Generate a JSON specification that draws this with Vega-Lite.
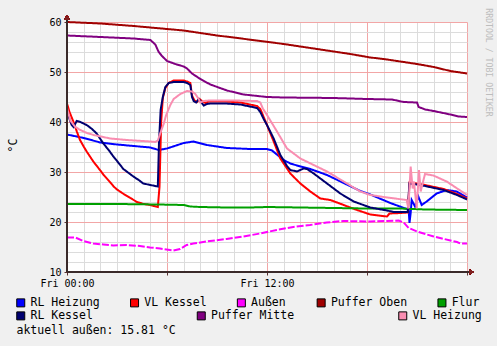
{
"$schema": "https://vega.github.io/schema/vega-lite/v6.json",
"width": 400, "height": 250,
"autosize": {"type": "none"},
"padding": {"left": 67, "top": 22, "right": 30, "bottom": 74},
"background": "#f0f0f0",
"config": {
 "view": {"fill": "white", "stroke": null},
 "font": "DejaVu Sans Mono",
 "axis": {"labelFont": "DejaVu Sans Mono", "titleFont": "DejaVu Sans Mono", "labelColor": "#000", "titleColor": "#000", "titleFontWeight": "normal"}
},
"data": {"values": [
{"s":"RL Heizung","h":0,"v":37.5},{"s":"RL Heizung","h":1,"v":36.8},{"s":"RL Heizung","h":2,"v":35.9},{"s":"RL Heizung","h":3,"v":35.5},{"s":"RL Heizung","h":4,"v":35.2},{"s":"RL Heizung","h":5,"v":34.9},{"s":"RL Heizung","h":5.5,"v":34.4},{"s":"RL Heizung","h":6,"v":34.7},{"s":"RL Heizung","h":7,"v":35.8},{"s":"RL Heizung","h":7.6,"v":36.1},{"s":"RL Heizung","h":8.4,"v":35.4},{"s":"RL Heizung","h":9.6,"v":34.8},{"s":"RL Heizung","h":11,"v":34.6},{"s":"RL Heizung","h":12,"v":34.6},{"s":"RL Heizung","h":12.3,"v":34.3},{"s":"RL Heizung","h":12.7,"v":33.2},{"s":"RL Heizung","h":13,"v":32.4},{"s":"RL Heizung","h":13.4,"v":31.7},{"s":"RL Heizung","h":14,"v":31.1},{"s":"RL Heizung","h":14.6,"v":30.6},{"s":"RL Heizung","h":15.6,"v":29.4},{"s":"RL Heizung","h":16.6,"v":27.8},{"s":"RL Heizung","h":17.6,"v":26.2},{"s":"RL Heizung","h":18.2,"v":25.5},{"s":"RL Heizung","h":19.4,"v":23.8},{"s":"RL Heizung","h":20.3,"v":22.7},{"s":"RL Heizung","h":20.5,"v":22.4},{"s":"RL Heizung","h":20.55,"v":19.8},{"s":"RL Heizung","h":20.62,"v":21.8},{"s":"RL Heizung","h":20.68,"v":24.4},{"s":"RL Heizung","h":20.88,"v":23.1},{"s":"RL Heizung","h":21.08,"v":25.1},{"s":"RL Heizung","h":21.28,"v":23.4},{"s":"RL Heizung","h":21.58,"v":24.1},{"s":"RL Heizung","h":22.18,"v":25.7},{"s":"RL Heizung","h":22.78,"v":26.4},{"s":"RL Heizung","h":23.38,"v":26.1},{"s":"RL Heizung","h":24,"v":24.9},
{"s":"VL Kessel","h":0,"v":43.7},{"s":"VL Kessel","h":0.15,"v":42.0},{"s":"VL Kessel","h":0.38,"v":40.1},{"s":"VL Kessel","h":0.6,"v":38.0},{"s":"VL Kessel","h":0.78,"v":36.4},{"s":"VL Kessel","h":1.0,"v":35.1},{"s":"VL Kessel","h":1.18,"v":34.1},{"s":"VL Kessel","h":1.58,"v":32.1},{"s":"VL Kessel","h":2.0,"v":30.3},{"s":"VL Kessel","h":2.2,"v":29.4},{"s":"VL Kessel","h":2.6,"v":27.9},{"s":"VL Kessel","h":2.8,"v":27.1},{"s":"VL Kessel","h":3.0,"v":26.5},{"s":"VL Kessel","h":3.4,"v":25.6},{"s":"VL Kessel","h":3.8,"v":24.8},{"s":"VL Kessel","h":4.2,"v":24.0},{"s":"VL Kessel","h":4.6,"v":23.6},{"s":"VL Kessel","h":5.0,"v":23.4},{"s":"VL Kessel","h":5.2,"v":23.2},{"s":"VL Kessel","h":5.45,"v":23.0},{"s":"VL Kessel","h":5.55,"v":27.0},{"s":"VL Kessel","h":5.65,"v":40.0},{"s":"VL Kessel","h":5.75,"v":44.8},{"s":"VL Kessel","h":5.9,"v":46.8},{"s":"VL Kessel","h":6.1,"v":47.8},{"s":"VL Kessel","h":6.4,"v":48.3},{"s":"VL Kessel","h":7.0,"v":48.3},{"s":"VL Kessel","h":7.2,"v":48.1},{"s":"VL Kessel","h":7.4,"v":47.8},{"s":"VL Kessel","h":7.5,"v":45.3},{"s":"VL Kessel","h":7.65,"v":44.3},{"s":"VL Kessel","h":7.8,"v":44.0},{"s":"VL Kessel","h":7.95,"v":44.6},{"s":"VL Kessel","h":8.1,"v":44.2},{"s":"VL Kessel","h":8.3,"v":43.8},{"s":"VL Kessel","h":8.5,"v":44.1},{"s":"VL Kessel","h":9.5,"v":44.1},{"s":"VL Kessel","h":10.4,"v":43.9},{"s":"VL Kessel","h":11.4,"v":43.2},{"s":"VL Kessel","h":11.6,"v":42.6},{"s":"VL Kessel","h":12.0,"v":39.4},{"s":"VL Kessel","h":12.4,"v":36.1},{"s":"VL Kessel","h":12.8,"v":32.7},{"s":"VL Kessel","h":13.4,"v":29.7},{"s":"VL Kessel","h":14.0,"v":27.7},{"s":"VL Kessel","h":14.6,"v":26.1},{"s":"VL Kessel","h":15.2,"v":24.7},{"s":"VL Kessel","h":15.8,"v":24.4},{"s":"VL Kessel","h":16.6,"v":23.4},{"s":"VL Kessel","h":17.4,"v":22.4},{"s":"VL Kessel","h":18.2,"v":21.5},{"s":"VL Kessel","h":19.2,"v":21.1},{"s":"VL Kessel","h":19.35,"v":21.7},{"s":"VL Kessel","h":20.0,"v":21.8},{"s":"VL Kessel","h":20.45,"v":21.9},{"s":"VL Kessel","h":20.55,"v":27.9},{"s":"VL Kessel","h":21.2,"v":27.6},{"s":"VL Kessel","h":22.6,"v":26.6},{"s":"VL Kessel","h":23.4,"v":25.6},{"s":"VL Kessel","h":24,"v":24.7},
{"s":"Außen","h":0,"v":16.9},{"s":"Außen","h":0.5,"v":16.9},{"s":"Außen","h":0.98,"v":16.2},{"s":"Außen","h":1.58,"v":15.7},{"s":"Außen","h":2.18,"v":15.5},{"s":"Außen","h":2.78,"v":15.3},{"s":"Außen","h":3.58,"v":15.4},{"s":"Außen","h":4.38,"v":15.2},{"s":"Außen","h":4.98,"v":14.9},{"s":"Außen","h":5.58,"v":14.7},{"s":"Außen","h":6.18,"v":14.4},{"s":"Außen","h":6.38,"v":14.3},{"s":"Außen","h":6.78,"v":14.6},{"s":"Außen","h":7.18,"v":15.4},{"s":"Außen","h":7.58,"v":15.7},{"s":"Außen","h":8.58,"v":16.2},{"s":"Außen","h":9.58,"v":16.6},{"s":"Außen","h":10.58,"v":17.1},{"s":"Außen","h":11.58,"v":17.7},{"s":"Außen","h":12.58,"v":18.4},{"s":"Außen","h":13.58,"v":19.0},{"s":"Außen","h":14.58,"v":19.4},{"s":"Außen","h":15.58,"v":19.9},{"s":"Außen","h":16.58,"v":20.2},{"s":"Außen","h":18.18,"v":20.1},{"s":"Außen","h":19.2,"v":20.2},{"s":"Außen","h":19.9,"v":20.3},{"s":"Außen","h":20.2,"v":19.9},{"s":"Außen","h":20.5,"v":18.8},{"s":"Außen","h":21.0,"v":18.1},{"s":"Außen","h":21.5,"v":17.6},{"s":"Außen","h":22.0,"v":17.1},{"s":"Außen","h":22.5,"v":16.7},{"s":"Außen","h":23.0,"v":16.3},{"s":"Außen","h":23.4,"v":16.0},{"s":"Außen","h":23.6,"v":15.7},{"s":"Außen","h":24,"v":15.7},
{"s":"Puffer Oben","h":0,"v":60.0},{"s":"Puffer Oben","h":2,"v":59.7},{"s":"Puffer Oben","h":4,"v":59.2},{"s":"Puffer Oben","h":5,"v":58.9},{"s":"Puffer Oben","h":7,"v":58.3},{"s":"Puffer Oben","h":8,"v":57.8},{"s":"Puffer Oben","h":9,"v":57.3},{"s":"Puffer Oben","h":10,"v":56.9},{"s":"Puffer Oben","h":11.6,"v":56.2},{"s":"Puffer Oben","h":13,"v":55.6},{"s":"Puffer Oben","h":14,"v":55.1},{"s":"Puffer Oben","h":15,"v":54.6},{"s":"Puffer Oben","h":16,"v":54.1},{"s":"Puffer Oben","h":17,"v":53.6},{"s":"Puffer Oben","h":18.2,"v":52.9},{"s":"Puffer Oben","h":19,"v":52.6},{"s":"Puffer Oben","h":20,"v":52.1},{"s":"Puffer Oben","h":21,"v":51.6},{"s":"Puffer Oben","h":22,"v":51.0},{"s":"Puffer Oben","h":23,"v":50.2},{"s":"Puffer Oben","h":24,"v":49.7},
{"s":"Flur","h":0,"v":23.6},{"s":"Flur","h":3,"v":23.6},{"s":"Flur","h":5.5,"v":23.5},{"s":"Flur","h":7,"v":23.4},{"s":"Flur","h":7.4,"v":23.1},{"s":"Flur","h":8,"v":23.0},{"s":"Flur","h":9.6,"v":22.9},{"s":"Flur","h":11,"v":22.9},{"s":"Flur","h":12,"v":23.0},{"s":"Flur","h":14,"v":22.9},{"s":"Flur","h":16,"v":22.8},{"s":"Flur","h":18,"v":22.7},{"s":"Flur","h":20,"v":22.7},{"s":"Flur","h":21.5,"v":22.5},{"s":"Flur","h":24,"v":22.4},
{"s":"RL Kessel","h":0,"v":42.1},{"s":"RL Kessel","h":0.15,"v":40.6},{"s":"RL Kessel","h":0.28,"v":39.4},{"s":"RL Kessel","h":0.4,"v":39.0},{"s":"RL Kessel","h":0.58,"v":40.2},{"s":"RL Kessel","h":0.8,"v":40.0},{"s":"RL Kessel","h":1.18,"v":39.4},{"s":"RL Kessel","h":1.5,"v":38.6},{"s":"RL Kessel","h":1.78,"v":37.7},{"s":"RL Kessel","h":2.18,"v":35.7},{"s":"RL Kessel","h":2.5,"v":34.4},{"s":"RL Kessel","h":2.78,"v":33.1},{"s":"RL Kessel","h":3.1,"v":31.8},{"s":"RL Kessel","h":3.38,"v":30.6},{"s":"RL Kessel","h":3.7,"v":29.8},{"s":"RL Kessel","h":3.98,"v":29.1},{"s":"RL Kessel","h":4.3,"v":28.4},{"s":"RL Kessel","h":4.58,"v":27.7},{"s":"RL Kessel","h":5.0,"v":27.4},{"s":"RL Kessel","h":5.45,"v":27.1},{"s":"RL Kessel","h":5.52,"v":36.0},{"s":"RL Kessel","h":5.62,"v":42.5},{"s":"RL Kessel","h":5.75,"v":45.0},{"s":"RL Kessel","h":5.9,"v":47.0},{"s":"RL Kessel","h":6.1,"v":47.8},{"s":"RL Kessel","h":6.4,"v":48.0},{"s":"RL Kessel","h":7.0,"v":48.0},{"s":"RL Kessel","h":7.2,"v":47.8},{"s":"RL Kessel","h":7.4,"v":47.4},{"s":"RL Kessel","h":7.5,"v":45.0},{"s":"RL Kessel","h":7.6,"v":44.2},{"s":"RL Kessel","h":7.75,"v":43.9},{"s":"RL Kessel","h":7.9,"v":44.6},{"s":"RL Kessel","h":8.05,"v":44.0},{"s":"RL Kessel","h":8.2,"v":43.3},{"s":"RL Kessel","h":8.4,"v":43.6},{"s":"RL Kessel","h":8.6,"v":43.7},{"s":"RL Kessel","h":9.5,"v":43.7},{"s":"RL Kessel","h":10.4,"v":43.5},{"s":"RL Kessel","h":11.4,"v":42.8},{"s":"RL Kessel","h":11.6,"v":42.0},{"s":"RL Kessel","h":11.8,"v":40.6},{"s":"RL Kessel","h":12.0,"v":39.4},{"s":"RL Kessel","h":12.4,"v":36.7},{"s":"RL Kessel","h":12.8,"v":33.4},{"s":"RL Kessel","h":13.2,"v":31.2},{"s":"RL Kessel","h":13.4,"v":30.4},{"s":"RL Kessel","h":13.8,"v":30.1},{"s":"RL Kessel","h":14.2,"v":30.7},{"s":"RL Kessel","h":14.4,"v":30.6},{"s":"RL Kessel","h":14.8,"v":29.7},{"s":"RL Kessel","h":15.6,"v":27.7},{"s":"RL Kessel","h":16.4,"v":25.7},{"s":"RL Kessel","h":17.2,"v":24.1},{"s":"RL Kessel","h":18.2,"v":22.9},{"s":"RL Kessel","h":19.2,"v":22.3},{"s":"RL Kessel","h":19.6,"v":22.0},{"s":"RL Kessel","h":20.45,"v":22.0},{"s":"RL Kessel","h":20.54,"v":27.7},{"s":"RL Kessel","h":21.2,"v":27.4},{"s":"RL Kessel","h":22.6,"v":26.4},{"s":"RL Kessel","h":23.4,"v":25.4},{"s":"RL Kessel","h":24,"v":24.5},
{"s":"Puffer Mitte","h":0,"v":57.3},{"s":"Puffer Mitte","h":2,"v":57.0},{"s":"Puffer Mitte","h":4,"v":56.7},{"s":"Puffer Mitte","h":5,"v":56.4},{"s":"Puffer Mitte","h":5.3,"v":55.5},{"s":"Puffer Mitte","h":5.5,"v":54.0},{"s":"Puffer Mitte","h":5.7,"v":53.2},{"s":"Puffer Mitte","h":6.0,"v":52.2},{"s":"Puffer Mitte","h":6.5,"v":51.6},{"s":"Puffer Mitte","h":7.0,"v":51.1},{"s":"Puffer Mitte","h":7.2,"v":50.7},{"s":"Puffer Mitte","h":7.5,"v":49.7},{"s":"Puffer Mitte","h":8.0,"v":48.6},{"s":"Puffer Mitte","h":8.6,"v":47.5},{"s":"Puffer Mitte","h":9.6,"v":46.3},{"s":"Puffer Mitte","h":10.6,"v":45.5},{"s":"Puffer Mitte","h":12,"v":45.0},{"s":"Puffer Mitte","h":13,"v":44.9},{"s":"Puffer Mitte","h":16,"v":44.8},{"s":"Puffer Mitte","h":18,"v":44.6},{"s":"Puffer Mitte","h":19.5,"v":44.5},{"s":"Puffer Mitte","h":20.2,"v":44.0},{"s":"Puffer Mitte","h":21,"v":43.9},{"s":"Puffer Mitte","h":21.1,"v":43.0},{"s":"Puffer Mitte","h":21.5,"v":42.5},{"s":"Puffer Mitte","h":22,"v":42.2},{"s":"Puffer Mitte","h":23,"v":41.5},{"s":"Puffer Mitte","h":23.5,"v":41.1},{"s":"Puffer Mitte","h":24,"v":41.0},
{"s":"VL Heizung","h":0,"v":42.8},{"s":"VL Heizung","h":0.2,"v":40.3},{"s":"VL Heizung","h":0.5,"v":39.0},{"s":"VL Heizung","h":0.8,"v":38.4},{"s":"VL Heizung","h":1.2,"v":37.8},{"s":"VL Heizung","h":1.6,"v":37.4},{"s":"VL Heizung","h":2.6,"v":36.7},{"s":"VL Heizung","h":3.6,"v":36.4},{"s":"VL Heizung","h":4.5,"v":36.2},{"s":"VL Heizung","h":5.0,"v":36.1},{"s":"VL Heizung","h":5.3,"v":36.0},{"s":"VL Heizung","h":5.45,"v":36.3},{"s":"VL Heizung","h":5.6,"v":37.8},{"s":"VL Heizung","h":5.8,"v":39.6},{"s":"VL Heizung","h":5.95,"v":41.4},{"s":"VL Heizung","h":6.2,"v":43.4},{"s":"VL Heizung","h":6.4,"v":44.6},{"s":"VL Heizung","h":6.8,"v":45.6},{"s":"VL Heizung","h":7.2,"v":46.2},{"s":"VL Heizung","h":7.5,"v":46.1},{"s":"VL Heizung","h":7.7,"v":45.6},{"s":"VL Heizung","h":7.9,"v":44.6},{"s":"VL Heizung","h":8.0,"v":43.9},{"s":"VL Heizung","h":8.2,"v":44.2},{"s":"VL Heizung","h":8.5,"v":44.3},{"s":"VL Heizung","h":10,"v":44.3},{"s":"VL Heizung","h":11.4,"v":44.2},{"s":"VL Heizung","h":11.6,"v":43.9},{"s":"VL Heizung","h":11.75,"v":42.7},{"s":"VL Heizung","h":12.0,"v":41.4},{"s":"VL Heizung","h":12.6,"v":38.1},{"s":"VL Heizung","h":13.2,"v":34.7},{"s":"VL Heizung","h":14.0,"v":32.7},{"s":"VL Heizung","h":14.8,"v":31.4},{"s":"VL Heizung","h":15.6,"v":30.1},{"s":"VL Heizung","h":16.6,"v":28.1},{"s":"VL Heizung","h":17.6,"v":26.1},{"s":"VL Heizung","h":18.2,"v":25.4},{"s":"VL Heizung","h":19.2,"v":24.9},{"s":"VL Heizung","h":20.38,"v":24.4},{"s":"VL Heizung","h":20.48,"v":22.7},{"s":"VL Heizung","h":20.62,"v":31.1},{"s":"VL Heizung","h":20.74,"v":26.7},{"s":"VL Heizung","h":20.82,"v":28.1},{"s":"VL Heizung","h":20.98,"v":22.7},{"s":"VL Heizung","h":21.12,"v":30.4},{"s":"VL Heizung","h":21.22,"v":26.1},{"s":"VL Heizung","h":21.48,"v":29.6},{"s":"VL Heizung","h":21.98,"v":29.3},{"s":"VL Heizung","h":22.78,"v":28.1},{"s":"VL Heizung","h":24,"v":25.4}
]},
"resolve": {"axis": {"x": "independent", "y": "independent"}},
"layer": [
 {
  "transform": [{"filter": "false"}],
  "mark": {"type": "point", "opacity": 0},
  "encoding": {
   "x": {"field": "h", "type": "quantitative", "scale": {"domain": [0, 24], "nice": false, "zero": false},
    "axis": {"orient": "bottom", "values": [1,2,3,4,5,7,8,9,10,11,13,14,15,16,17,19,20,21,22,23], "grid": true, "gridColor": "#dcdcdc", "gridWidth": 1, "labels": false, "ticks": false, "domain": false, "title": null}},
   "y": {"field": "v", "type": "quantitative", "scale": {"domain": [10, 60], "nice": false, "zero": false},
    "axis": {"orient": "left", "values": [12,14,16,18,22,24,26,28,32,34,36,38,42,44,46,48,52,54,56,58], "grid": true, "gridColor": "#dcdcdc", "gridWidth": 1, "labels": false, "ticks": false, "domain": false, "title": null}}
  }
 },
 {
  "mark": {"type": "line", "strokeWidth": 2},
  "encoding": {
   "x": {"field": "h", "type": "quantitative", "scale": {"domain": [0, 24], "nice": false, "zero": false},
    "axis": {"orient": "bottom", "values": [0,6,12,18,24], "grid": true, "gridColor": "#f2a6a6", "gridWidth": 1, "domain": false,
     "ticks": true, "tickSize": 3, "tickColor": "#5a3030", "labelPadding": 3, "labelFontSize": 10, "labelFlush": false, "labelOverlap": false,
     "labelExpr": "datum.value == 0 ? 'Fri 00:00' : (datum.value == 12 ? 'Fri 12:00' : '')",
     "title": "aktuell außen: 15.81 °C", "titleX": -51, "titleY": 61, "titleAlign": "left", "titleBaseline": "alphabetic", "titleFontSize": 11.5}},
   "y": {"field": "v", "type": "quantitative", "scale": {"domain": [10, 60], "nice": false, "zero": false},
    "axis": {"orient": "left", "values": [10,20,30,40,50,60], "grid": true, "gridColor": "#f2a6a6", "gridWidth": 1, "domain": false,
     "ticks": true, "tickSize": 3, "tickColor": "#5a3030", "labelPadding": 3, "labelFontSize": 10,
     "title": "°C", "titleX": -54, "titleY": 123, "titleAngle": 270, "titleAlign": "center", "titleBaseline": "middle", "titleFontSize": 11.5}},
   "stroke": {"field": "s", "type": "nominal", "legend": null,
    "scale": {"domain": ["RL Heizung","VL Kessel","Außen","Puffer Oben","Flur","RL Kessel","Puffer Mitte","VL Heizung"],
     "range": ["#0000ff","#ff0000","#ff00ff","#a00000","#00a000","#000070","#800080","#f98db1"]}},
   "strokeDash": {"field": "s", "type": "nominal", "legend": null,
    "scale": {"domain": ["RL Heizung","VL Kessel","Außen","Puffer Oben","Flur","RL Kessel","Puffer Mitte","VL Heizung"],
     "range": [[1,0],[1,0],[7,2],[1,0],[1,0],[1,0],[1,0],[1,0]]}}
  }
 },
 {
  "transform": [{"filter": "false"}],
  "mark": {"type": "square", "opacity": 1, "size": 64},
  "encoding": {
   "x": {"field": "h", "type": "quantitative", "axis": null},
   "y": {"field": "v", "type": "quantitative", "axis": null},
   "fill": {"field": "s", "type": "nominal",
    "scale": {"domain": ["RL Heizung","VL Kessel","Außen","Puffer Oben","Flur"], "range": ["#0000ff","#ff0000","#ff00ff","#a00000","#00a000"]},
    "legend": {"orient": "none", "legendX": -52, "legendY": 275, "direction": "horizontal", "title": null, "padding": 0,
     "symbolType": "square", "symbolSize": 64, "symbolStrokeColor": "#000", "symbolStrokeWidth": 1, "symbolOpacity": 1,
     "labelFont": "DejaVu Sans Mono", "labelFontSize": 11.5, "labelColor": "#000", "labelOffset": 4, "columnPadding": 27.8}}
  }
 },
 {
  "transform": [{"filter": "false"}],
  "mark": {"type": "square", "opacity": 1, "size": 64},
  "encoding": {
   "x": {"field": "h", "type": "quantitative", "axis": null},
   "y": {"field": "v", "type": "quantitative",
    "axis": {"orient": "right", "labels": false, "ticks": false, "domain": false, "grid": false,
     "title": "RRDTOOL / TOBI OETIKER", "titleAngle": 90, "titleX": 20, "titleY": 40, "titleAlign": "center", "titleBaseline": "middle", "titleFontSize": 8.2, "titleColor": "#bdbdbd"}},
   "color": {"field": "s", "type": "nominal",
    "scale": {"domain": ["RL Kessel","Puffer Mitte","VL Heizung"], "range": ["#000070","#800080","#f98db1"]},
    "legend": {"orient": "none", "legendX": -52, "legendY": 288, "direction": "horizontal", "title": null, "padding": 0,
     "symbolType": "square", "symbolSize": 64, "symbolStrokeColor": "#000", "symbolStrokeWidth": 1, "symbolOpacity": 1,
     "labelFont": "DejaVu Sans Mono", "labelFontSize": 11.5, "labelColor": "#000", "labelOffset": 4, "columnPadding": 101.5}}
  }
 },
 {
  "mark": {"type": "rule", "color": "#3a2a2a", "strokeWidth": 1},
  "encoding": {
   "x": {"datum": 0, "type": "quantitative", "axis": null},
   "y": {"datum": 10, "type": "quantitative", "axis": null},
   "y2": {"datum": 61.2}
  }
 },
 {
  "mark": {"type": "rule", "color": "#3a2a2a", "strokeWidth": 1},
  "encoding": {
   "y": {"datum": 10, "type": "quantitative", "axis": null},
   "x": {"datum": 0, "type": "quantitative", "axis": null},
   "x2": {"datum": 24.15}
  }
 },
 {
  "mark": {"type": "point", "shape": "triangle-up", "filled": true, "size": 25, "color": "#801f1f", "opacity": 1},
  "encoding": {
   "x": {"datum": 0, "type": "quantitative", "axis": null},
   "y": {"datum": 60.95, "type": "quantitative", "axis": null}
  }
 },
 {
  "mark": {"type": "point", "shape": "triangle-right", "filled": true, "size": 25, "color": "#801f1f", "opacity": 1},
  "encoding": {
   "x": {"datum": 24.27, "type": "quantitative", "axis": null},
   "y": {"datum": 10, "type": "quantitative", "axis": null}
  }
 }
]
}
